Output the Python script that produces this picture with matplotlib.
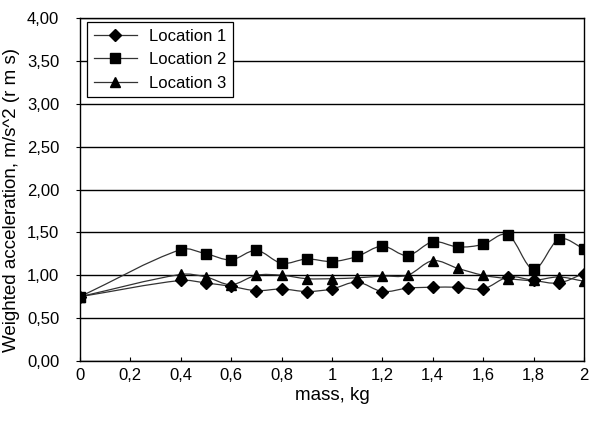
import numpy as np
import matplotlib
matplotlib.use("Agg")
import matplotlib.pyplot as plt
from matplotlib.path import Path
from matplotlib.patches import PathPatch
from matplotlib.ticker import FuncFormatter

plt.rcParams['font.family'] = ['Liberation Sans', 'DejaVu Sans']

# Data
mass = [0, 0.4, 0.5, 0.6, 0.7, 0.8, 0.9, 1.0, 1.1, 1.2, 1.3, 1.4, 1.5, 1.6, 1.7, 1.8, 1.9, 2.0]
loc1 = [0.75, 0.94, 0.91, 0.87, 0.82, 0.84, 0.81, 0.84, 0.92, 0.81, 0.85, 0.86, 0.86, 0.84, 0.98, 0.94, 0.91, 1.02]
loc2 = [0.75, 1.30, 1.25, 1.18, 1.29, 1.14, 1.19, 1.16, 1.22, 1.34, 1.23, 1.39, 1.33, 1.36, 1.47, 1.07, 1.42, 1.31]
loc3 = [0.75, 1.01, 0.98, 0.89, 1.00, 1.00, 0.96, 0.96, 0.97, 0.99, 1.00, 1.17, 1.08, 1.00, 0.96, 0.94, 0.98, 0.93]
labels = ['Location 1', 'Location 2', 'Location 3']
markers = ['D', 's', '^']


def smooth_path(x, y):
    # smoothed line (cubic Hermite -> Bezier), parametrised on x so no overshoot in x
    x = np.asarray(x, float)
    y = np.asarray(y, float)
    n = len(x)
    m = np.zeros(n)
    for i in range(n):
        a = max(i - 1, 0)
        b = min(i + 1, n - 1)
        m[i] = (y[b] - y[a]) / (x[b] - x[a])
    verts = [(x[0], y[0])]
    codes = [Path.MOVETO]
    for i in range(n - 1):
        h = x[i + 1] - x[i]
        c1 = (x[i] + h / 3, y[i] + m[i] * h / 3)
        c2 = (x[i + 1] - h / 3, y[i + 1] - m[i + 1] * h / 3)
        verts += [c1, c2, (x[i + 1], y[i + 1])]
        codes += [Path.CURVE4] * 3
    return Path(verts, codes)


fig = plt.figure(figsize=(5.91, 4.30), dpi=100)
ax = fig.add_axes([0.1354, 0.1605, 0.8526, 0.7975])

for ys, lab, mk, ms in zip([loc1, loc2, loc3], labels, markers, [6.5, 6.5, 7.5]):
    ax.add_patch(PathPatch(smooth_path(mass, ys), fill=False, edgecolor='#333333', lw=0.9, zorder=3))
    ax.plot(mass, ys, linestyle='none', marker=mk, color='black', markersize=ms, zorder=4)
    ax.plot([], [], color='#333333', lw=0.9, marker=mk, markersize=ms, markerfacecolor='black',
            markeredgecolor='black', label=lab)

ax.set_xlim(0, 2)
ax.set_ylim(0, 4)
ax.set_xticks(np.arange(0, 2.01, 0.2))
ax.set_yticks(np.arange(0, 4.01, 0.5))
ax.yaxis.set_major_formatter(FuncFormatter(lambda v, p: f'{v:.2f}'.replace('.', ',')))
ax.xaxis.set_major_formatter(FuncFormatter(lambda v, p: ('%g' % round(v, 1)).replace('.', ',')))
ax.grid(axis='y', color='black', lw=1.0)
ax.tick_params(axis='x', direction='in', length=3, width=0.8, pad=5, labelsize=12)
ax.tick_params(axis='y', direction='out', length=3, width=0.8, pad=12, labelsize=12)
for s in ax.spines.values():
    s.set_color('black')
    s.set_linewidth(1.0)

ax.set_xlabel('mass, kg', fontsize=13.5)
ax.set_ylabel('Weighted acceleration, m/s^2 (r m s)', fontsize=13.5)
ax.xaxis.set_label_coords(0.5, -0.075)
ax.yaxis.set_label_coords(-0.12, 0.47)

leg = ax.legend(loc='upper left', bbox_to_anchor=(0.014, 0.988), borderaxespad=0, fontsize=12,
                frameon=True, fancybox=False, edgecolor='black', framealpha=1, handlelength=2.6,
                borderpad=0.4, labelspacing=0.5, handletextpad=0.7)
leg.get_frame().set_linewidth(0.9)

fig.savefig('out.png', dpi=100)
